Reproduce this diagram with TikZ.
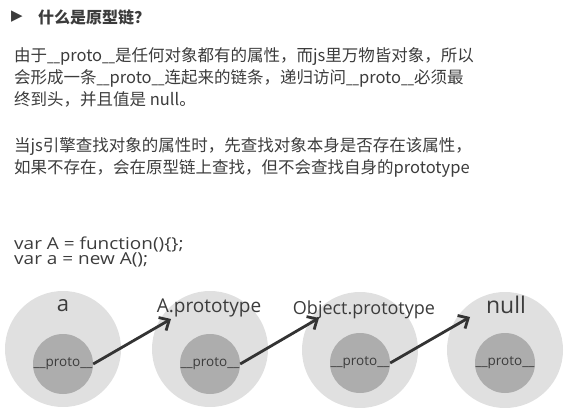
\documentclass[tikz,border=0pt]{standalone}
\usepackage{fontspec}
\usepackage{graphicx}
\setmainfont{Noto Sans CJK SC}
\newfontfamily\latinfont{Open Sans}
\newfontfamily\codefont{Open Sans}[FakeStretch=1.15]
\newfontfamily\symfont{DejaVu Sans}
\usetikzlibrary{arrows.meta, positioning, calc}
\definecolor{outergray}{HTML}{E0E0E0}
\definecolor{innergray}{HTML}{ADADAD}
\definecolor{textgray}{HTML}{3C3C3C}
\definecolor{arrowgray}{HTML}{333333}
% narrow underscores, as in the original
\newcommand\usc{\scalebox{0.7}[1]{\_}}
\newcommand\protoname{\usc\usc proto\usc\usc}
\tikzset{
    % text block
    bodytext/.style={anchor=base west, inner sep=0pt, align=left, text=textgray,
                font=\fontsize{16.5}{22}\selectfont},
    codetext/.style={anchor=base west, inner sep=0pt, align=left, text=textgray,
                font=\codefont\fontsize{16.5}{15}\selectfont},
    % prototype chain
    objcirc/.style={circle, fill=outergray, minimum size=116pt, inner sep=0pt},
    protocirc/.style={circle, fill=innergray, minimum size=60pt, inner sep=0pt,
                text=textgray, font=\latinfont\fontsize{13.5}{14}\selectfont},
    objlbl/.style={inner sep=0pt, text=textgray, font=\latinfont\fontsize{#1}{#1}\selectfont},
    chainarrow/.style={-{Straight Barb[length=8pt, width=15pt]}, line width=2.8pt, arrowgray},
}
\begin{document}
\begin{tikzpicture}[x=1pt, y=-1pt]
\useasboundingbox (0,0) rectangle (577,419);

\node[inner sep=0pt, text=textgray, font=\symfont\fontsize{15}{15}\selectfont] (mark) at (17,17) {▶};
\node[bodytext, font=\bfseries\fontsize{16}{16}\selectfont] (title) at (38,24) {什么是原型链？};

\node[bodytext] (para1) at (14,106) {由于\protoname 是任何对象都有的属性，而js里万物皆对象，所以\\
会形成一条\protoname 连起来的链条，递归访问\protoname 必须最\\
终到头，并且值是 null。};
\node[bodytext] (para2) at (14,174) {当js引擎查找对象的属性时，先查找对象本身是否存在该属性，\\
如果不存在，会在原型链上查找，但不会查找自身的prototype};

\node[codetext] (code) at (14,264) {var A = function()\{\};\\var a = new A();};

% objects
\node[objcirc] (aobj) at (63,349) {};
\node[objcirc] (Aobj) at (210,349) {};
\node[objcirc] (Oobj) at (360,350) {};
\node[objcirc] (nobj) at (505,350) {};

\node[protocirc] (pa) at (63,364) {\_\_proto\_\_};
\node[protocirc] (pA) at (210,364) {\_\_proto\_\_};
\node[protocirc] (pO) at (360,363) {\_\_proto\_\_};
\node[protocirc] (pn) at (505,363) {\_\_proto\_\_};

\node[objlbl=22] (la) at (63,306) {a};
\node[objlbl=19] (lA) at (209,308) {A.prototype};
\node[objlbl=18] (lO) at (364,310) {Object.prototype};
\node[objlbl=23] (ln) at (506,305) {null};

% chain
\draw[chainarrow] (pa.east) -- ($(Aobj.center)+(-39,-30)$);
\draw[chainarrow] (pA.east) -- ($(Oobj.center)+(-41,-32)$);
\draw[chainarrow] (pO.east) -- ($(nobj.center)+(-35,-33)$);
\end{tikzpicture}
\end{document}
